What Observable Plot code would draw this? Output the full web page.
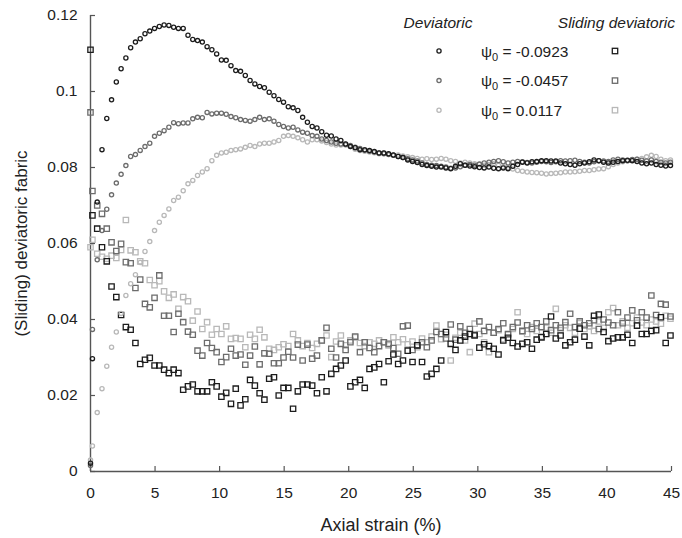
<!DOCTYPE html>
<html><head><meta charset="utf-8">
<script src="https://cdn.jsdelivr.net/npm/d3@7"></script>
<script src="https://cdn.jsdelivr.net/npm/@observablehq/plot@0.6"></script>
<style>
body{margin:0;background:#fff;}
#chart{position:relative;width:682px;height:538px;font-family:"Liberation Sans",Arial,sans-serif;}
#chart svg{display:block;}
#legend{position:absolute;left:0;top:0;pointer-events:none;}
g[aria-label="x-axis label"]{font-size:18px !important;}
g[aria-label="y-axis label"]{font-size:17px !important;}
</style></head><body><div id="chart"></div>
<script>
// Axial strain (%) sampling of all series
const strain = [0, 0.15, 0.52, 0.89, 1.26, 1.63, 2.00, 2.37, 2.74, 3.11,
 3.48, 3.85, 4.22, 4.59, 4.96, 5.33, 5.70, 6.07, 6.44, 6.81,
 7.18, 7.55, 7.92, 8.29, 8.66, 9.03, 9.40, 9.77, 10.14, 10.51,
 10.88, 11.25, 11.62, 11.99, 12.36, 12.73, 13.10, 13.47, 13.84, 14.21,
 14.58, 14.95, 15.32, 15.69, 16.06, 16.43, 16.80, 17.17, 17.54, 17.91,
 18.28, 18.65, 19.02, 19.39, 19.76, 20.13, 20.50, 20.87, 21.24, 21.61,
 21.98, 22.35, 22.72, 23.09, 23.46, 23.83, 24.20, 24.57, 24.94, 25.31,
 25.68, 26.05, 26.42, 26.79, 27.16, 27.53, 27.90, 28.27, 28.64, 29.01,
 29.38, 29.75, 30.12, 30.49, 30.86, 31.23, 31.60, 31.97, 32.34, 32.71,
 33.08, 33.45, 33.82, 34.19, 34.56, 34.93, 35.30, 35.67, 36.04, 36.41,
 36.78, 37.15, 37.52, 37.89, 38.26, 38.63, 39.00, 39.37, 39.74, 40.11,
 40.48, 40.85, 41.22, 41.59, 41.96, 42.33, 42.70, 43.07, 43.44, 43.81,
 44.18, 44.55, 44.92];

// Deviatoric fabric, psi0 = -0.0923 / -0.0457 / 0.0117
const devA = [0.0022, 0.0297, 0.0709, 0.0847, 0.0929, 0.0978, 0.1025, 0.1060, 0.1088, 0.1115,
 0.1130, 0.1139, 0.1152, 0.1159, 0.1166, 0.1171, 0.1175, 0.1174, 0.1169, 0.1166,
 0.1166, 0.1148, 0.1137, 0.1134, 0.1130, 0.1118, 0.1110, 0.1099, 0.1083, 0.1082,
 0.1068, 0.1055, 0.1053, 0.1042, 0.1029, 0.1020, 0.1013, 0.1010, 0.0998, 0.0989,
 0.0979, 0.0972, 0.0960, 0.0957, 0.0950, 0.0932, 0.0919, 0.0908, 0.0904, 0.0894,
 0.0885, 0.0883, 0.0875, 0.0871, 0.0862, 0.0855, 0.0852, 0.0847, 0.0846, 0.0845,
 0.0842, 0.0838, 0.0838, 0.0836, 0.0833, 0.0829, 0.0826, 0.0820, 0.0816, 0.0813,
 0.0808, 0.0805, 0.0803, 0.0801, 0.0801, 0.0799, 0.0797, 0.0803, 0.0810, 0.0806,
 0.0804, 0.0802, 0.0800, 0.0799, 0.0801, 0.0798, 0.0797, 0.0799, 0.0797, 0.0803,
 0.0808, 0.0814, 0.0812, 0.0815, 0.0816, 0.0818, 0.0818, 0.0817, 0.0817, 0.0812,
 0.0810, 0.0808, 0.0806, 0.0810, 0.0812, 0.0815, 0.0820, 0.0818, 0.0814, 0.0812,
 0.0814, 0.0816, 0.0818, 0.0819, 0.0818, 0.0816, 0.0812, 0.0810, 0.0812, 0.0808,
 0.0806, 0.0804, 0.0805];
const devB = [0.0016, 0.0374, 0.0557, 0.0634, 0.0690, 0.0728, 0.0759, 0.0782, 0.0805, 0.0829,
 0.0834, 0.0845, 0.0855, 0.0864, 0.0882, 0.0890, 0.0897, 0.0906, 0.0918, 0.0915,
 0.0917, 0.0917, 0.0928, 0.0932, 0.0931, 0.0945, 0.0941, 0.0943, 0.0943, 0.0940,
 0.0934, 0.0931, 0.0926, 0.0924, 0.0922, 0.0926, 0.0932, 0.0926, 0.0928, 0.0922,
 0.0913, 0.0908, 0.0904, 0.0906, 0.0899, 0.0893, 0.0890, 0.0884, 0.0882, 0.0875,
 0.0871, 0.0867, 0.0864, 0.0862, 0.0860, 0.0858, 0.0853, 0.0850, 0.0847, 0.0843,
 0.0841, 0.0838, 0.0836, 0.0834, 0.0832, 0.0829, 0.0826, 0.0823, 0.0820, 0.0817,
 0.0812, 0.0808, 0.0806, 0.0805, 0.0803, 0.0801, 0.0798, 0.0799, 0.0802, 0.0806,
 0.0808, 0.0806, 0.0809, 0.0812, 0.0814, 0.0816, 0.0818, 0.0815, 0.0812, 0.0814,
 0.0816, 0.0815, 0.0813, 0.0812, 0.0814, 0.0816, 0.0815, 0.0813, 0.0815, 0.0818,
 0.0817, 0.0818, 0.0819, 0.0816, 0.0814, 0.0812, 0.0815, 0.0818, 0.0817, 0.0816,
 0.0820, 0.0822, 0.0820, 0.0818, 0.0821, 0.0822, 0.0819, 0.0817, 0.0820, 0.0816,
 0.0814, 0.0812, 0.0814];
const devC = [0.0030, 0.0067, 0.0155, 0.0218, 0.0277, 0.0327, 0.0367, 0.0416, 0.0463, 0.0494,
 0.0518, 0.0550, 0.0579, 0.0605, 0.0634, 0.0656, 0.0674, 0.0691, 0.0713, 0.0722,
 0.0739, 0.0757, 0.0766, 0.0779, 0.0788, 0.0797, 0.0818, 0.0832, 0.0838, 0.0840,
 0.0845, 0.0847, 0.0849, 0.0853, 0.0858, 0.0855, 0.0862, 0.0864, 0.0864, 0.0867,
 0.0871, 0.0882, 0.0884, 0.0882, 0.0878, 0.0873, 0.0867, 0.0873, 0.0873, 0.0870,
 0.0866, 0.0862, 0.0859, 0.0859, 0.0862, 0.0855, 0.0848, 0.0845, 0.0843, 0.0841,
 0.0839, 0.0836, 0.0838, 0.0835, 0.0832, 0.0833, 0.0830, 0.0828, 0.0826, 0.0824,
 0.0822, 0.0823, 0.0821, 0.0822, 0.0824, 0.0822, 0.0818, 0.0816, 0.0812, 0.0814,
 0.0812, 0.0810, 0.0808, 0.0806, 0.0808, 0.0810, 0.0806, 0.0802, 0.0800, 0.0796,
 0.0792, 0.0790, 0.0788, 0.0787, 0.0786, 0.0785, 0.0783, 0.0784, 0.0785, 0.0786,
 0.0788, 0.0788, 0.0789, 0.0790, 0.0792, 0.0792, 0.0794, 0.0796, 0.0797, 0.0802,
 0.0808, 0.0812, 0.0815, 0.0818, 0.0820, 0.0822, 0.0824, 0.0828, 0.0832, 0.0829,
 0.0822, 0.0818, 0.0820];

// Sliding deviatoric fabric, same three specimens
const slA = [0.1110, 0.0674, 0.0639, 0.0590, 0.0553, 0.0487, 0.0459, 0.0412, 0.0380, 0.0373,
 0.0338, 0.0283, 0.0294, 0.0299, 0.0279, 0.0279, 0.0268, 0.0259, 0.0268, 0.0259,
 0.0215, 0.0224, 0.0229, 0.0211, 0.0211, 0.0211, 0.0235, 0.0224, 0.0197, 0.0207,
 0.0178, 0.0218, 0.0174, 0.0190, 0.0241, 0.0226, 0.0206, 0.0189, 0.0244, 0.0248,
 0.0200, 0.0220, 0.0220, 0.0165, 0.0211, 0.0229, 0.0229, 0.0226, 0.0206, 0.0248,
 0.0211, 0.0257, 0.0270, 0.0279, 0.0292, 0.0224, 0.0235, 0.0241, 0.0220, 0.0270,
 0.0274, 0.0283, 0.0235, 0.0290, 0.0308, 0.0283, 0.0292, 0.0318, 0.0288, 0.0332,
 0.0288, 0.0250, 0.0257, 0.0270, 0.0292, 0.0367, 0.0336, 0.0320, 0.0345, 0.0355,
 0.0362, 0.0358, 0.0326, 0.0335, 0.0330, 0.0323, 0.0308, 0.0345, 0.0352, 0.0338,
 0.0329, 0.0336, 0.0340, 0.0323, 0.0347, 0.0353, 0.0362, 0.0408, 0.0350, 0.0358,
 0.0332, 0.0340, 0.0347, 0.0376, 0.0355, 0.0332, 0.0410, 0.0413, 0.0367, 0.0343,
 0.0350, 0.0353, 0.0353, 0.0360, 0.0338, 0.0384, 0.0362, 0.0362, 0.0370, 0.0372,
 0.0406, 0.0338, 0.0358];
const slB = [0.0945, 0.0738, 0.0700, 0.0678, 0.0639, 0.0603, 0.0580, 0.0599, 0.0551, 0.0548,
 0.0483, 0.0505, 0.0441, 0.0432, 0.0457, 0.0516, 0.0410, 0.0410, 0.0367, 0.0415,
 0.0393, 0.0368, 0.0360, 0.0318, 0.0305, 0.0338, 0.0325, 0.0314, 0.0288, 0.0301,
 0.0323, 0.0305, 0.0308, 0.0281, 0.0305, 0.0329, 0.0282, 0.0311, 0.0310, 0.0285,
 0.0285, 0.0300, 0.0315, 0.0300, 0.0334, 0.0292, 0.0334, 0.0297, 0.0305, 0.0345,
 0.0378, 0.0323, 0.0300, 0.0336, 0.0320, 0.0340, 0.0355, 0.0314, 0.0340, 0.0325,
 0.0314, 0.0330, 0.0340, 0.0336, 0.0325, 0.0310, 0.0382, 0.0384, 0.0320, 0.0332,
 0.0340, 0.0327, 0.0345, 0.0367, 0.0362, 0.0350, 0.0387, 0.0347, 0.0382, 0.0365,
 0.0375, 0.0360, 0.0395, 0.0370, 0.0380, 0.0365, 0.0375, 0.0390, 0.0362, 0.0380,
 0.0392, 0.0370, 0.0385, 0.0375, 0.0390, 0.0380, 0.0395, 0.0372, 0.0385, 0.0378,
 0.0393, 0.0415, 0.0380, 0.0395, 0.0385, 0.0390, 0.0398, 0.0375, 0.0400, 0.0392,
 0.0385, 0.0419, 0.0390, 0.0405, 0.0424, 0.0398, 0.0419, 0.0405, 0.0463, 0.0412,
 0.0441, 0.0439, 0.0408];
const slC = [0.0590, 0.0610, 0.0573, 0.0565, 0.0560, 0.0568, 0.0562, 0.0583, 0.0662, 0.0582,
 0.0577, 0.0553, 0.0548, 0.0504, 0.0490, 0.0501, 0.0474, 0.0457, 0.0466, 0.0428,
 0.0459, 0.0448, 0.0397, 0.0421, 0.0375, 0.0393, 0.0360, 0.0375, 0.0362, 0.0382,
 0.0349, 0.0351, 0.0349, 0.0327, 0.0360, 0.0349, 0.0373, 0.0353, 0.0323, 0.0320,
 0.0327, 0.0335, 0.0330, 0.0362, 0.0345, 0.0330, 0.0338, 0.0325, 0.0336, 0.0345,
 0.0358, 0.0301, 0.0342, 0.0358, 0.0332, 0.0345, 0.0353, 0.0338, 0.0330, 0.0340,
 0.0336, 0.0345, 0.0340, 0.0332, 0.0353, 0.0340, 0.0348, 0.0335, 0.0342, 0.0327,
 0.0350, 0.0340, 0.0355, 0.0384, 0.0348, 0.0360, 0.0292, 0.0352, 0.0365, 0.0345,
 0.0314, 0.0389, 0.0362, 0.0340, 0.0314, 0.0365, 0.0372, 0.0348, 0.0360, 0.0375,
 0.0419, 0.0368, 0.0362, 0.0380, 0.0370, 0.0355, 0.0378, 0.0365, 0.0428, 0.0372,
 0.0385, 0.0378, 0.0365, 0.0390, 0.0375, 0.0382, 0.0370, 0.0395, 0.0378, 0.0419,
 0.0430, 0.0385, 0.0395, 0.0378, 0.0390, 0.0405, 0.0392, 0.0385, 0.0400, 0.0395,
 0.0389, 0.0410, 0.0402];

const psi0 = ["-0.0923", "-0.0457", "0.0117"];
const colors = ["#1c1c1c", "#6c6c6c", "#b8b8b8"];
const xTicks = [0, 5, 10, 15, 20, 25, 30, 35, 40, 45];
const yTicks = [0, 0.02, 0.04, 0.06, 0.08, 0.1, 0.12];
const headers = ["Deviatoric", "Sliding deviatoric"];

const toRows = ys => ys.map((y, i) => ({x: strain[i], y}));
const dev = [devA, devB, devC].map(toRows);
const sl = [slA, slB, slC].map(toRows);

const W = 682, H = 538, mL = 90, mR = 11, mT = 15, mB = 67;
const innerW = W - mL - mR, innerH = H - mT - mB;
const axisColor = "#555";

const marks = [];
for (let s = 2; s >= 0; s--) {
  marks.push(Plot.dot(sl[s], {x: "x", y: "y", symbol: "square", r: 3.0, stroke: colors[s], strokeWidth: 1.3, fill: "none"}));
}
for (let s = 2; s >= 0; s--) {
  marks.push(Plot.dot(dev[s], {x: "x", y: "y", r: 2.1, stroke: colors[s], strokeWidth: 1.3, fill: "none"}));
}

const plot = Plot.plot({
  width: W, height: H,
  marginLeft: mL, marginRight: mR, marginTop: mT, marginBottom: mB,
  style: {fontFamily: '"Liberation Sans", Arial, sans-serif', fontSize: "15.5px", color: "#222", background: "#fff"},
  x: {domain: [0, 45]},
  y: {domain: [0, 0.12]},
  marks: [
    Plot.ruleX([0], {stroke: axisColor, strokeWidth: 1.4}),
    Plot.ruleY([0], {stroke: axisColor, strokeWidth: 1.4}),
    Plot.tickX(xTicks, {x: d => d, insetTop: innerH - 5, stroke: axisColor, strokeWidth: 1.2}),
    Plot.tickY(yTicks, {y: d => d, insetRight: innerW - 5, stroke: axisColor, strokeWidth: 1.2}),
    Plot.axisX({ticks: xTicks, tickSize: 0, tickPadding: 15, label: "Axial strain (%)", labelAnchor: "center", labelOffset: 59, labelArrow: "none"}),
    Plot.axisY({ticks: yTicks, tickSize: 0, tickPadding: 13, tickFormat: d3.format("~g"), label: "(Sliding) deviatoric fabric", labelAnchor: "center", labelOffset: 76, labelArrow: "none"}),
    ...marks
  ]
});
const chart = document.getElementById("chart");
chart.appendChild(plot);

// Legend overlay
const lg = d3.select(chart).append("svg").attr("id", "legend").attr("width", W).attr("height", 130)
  .style("font-family", '"Liberation Sans", Arial, sans-serif').style("font-size", "15.5px").attr("fill", "#222");
lg.append("text").attr("x", 438).attr("y", 28).attr("text-anchor", "middle").attr("font-style", "italic").text(headers[0]);
lg.append("text").attr("x", 675).attr("y", 28).attr("text-anchor", "end").attr("font-style", "italic").text(headers[1]);
psi0.forEach((v, i) => {
  const cy = 51 + 29.6 * i;
  lg.append("circle").attr("cx", 439).attr("cy", cy).attr("r", 2.1).attr("fill", "none").attr("stroke", colors[i]).attr("stroke-width", 1.3);
  lg.append("rect").attr("x", 612.3).attr("y", cy - 2.7).attr("width", 5.4).attr("height", 5.4).attr("fill", "none").attr("stroke", colors[i]).attr("stroke-width", 1.3);
  const t = lg.append("text").attr("x", 481).attr("y", cy + 5.5);
  t.append("tspan").text("ψ");
  t.append("tspan").attr("font-size", "11px").attr("dy", 4).text("0");
  t.append("tspan").attr("dy", -4).text(" = " + v);
});
</script></body></html>
